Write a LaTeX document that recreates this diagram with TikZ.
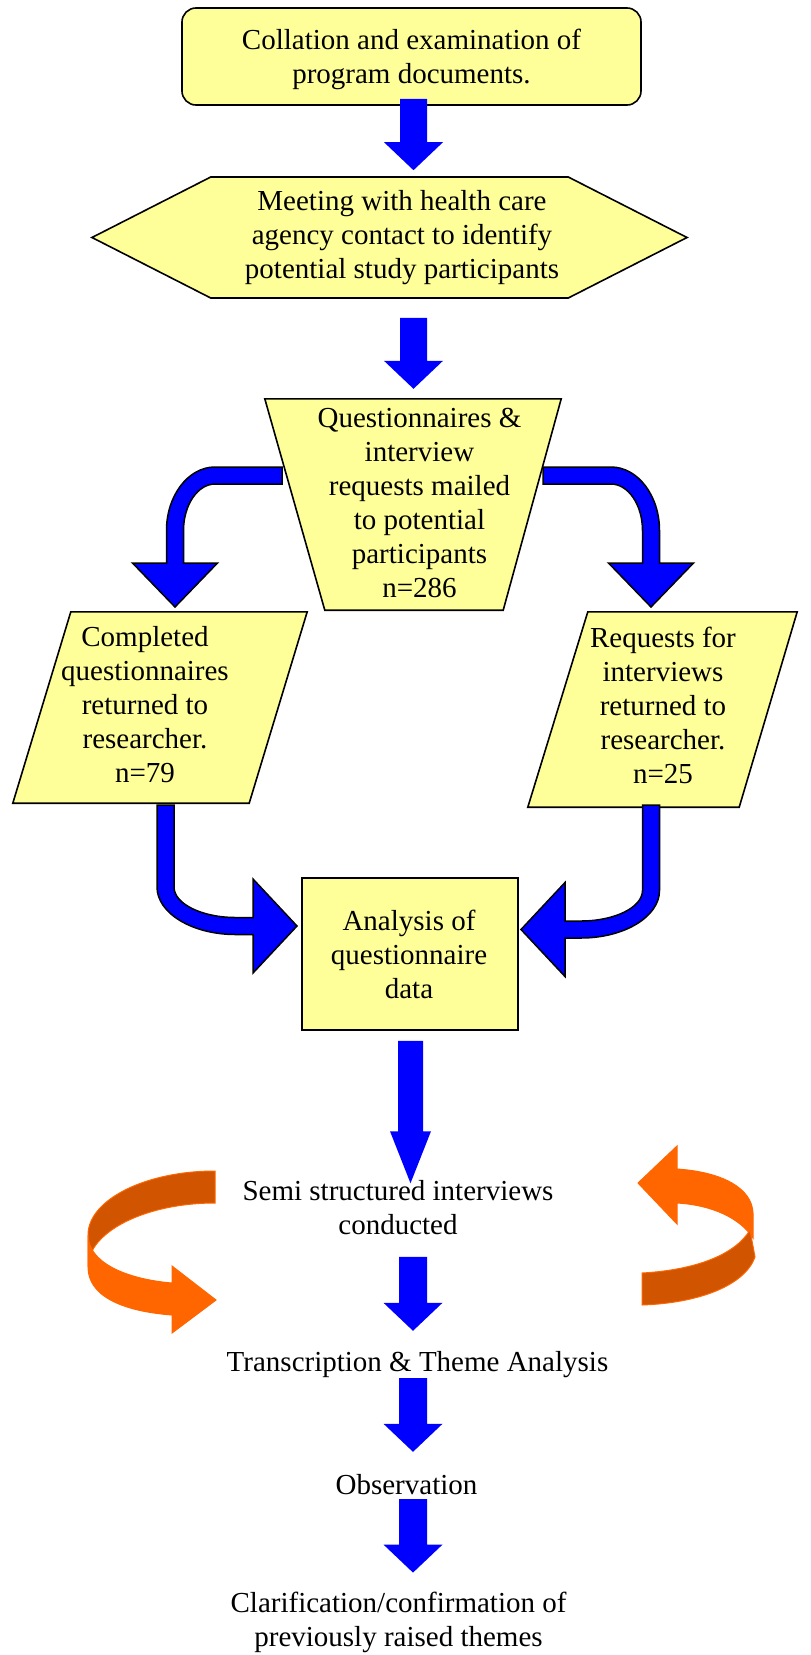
\documentclass[tikz,border=0pt]{standalone}
\usepackage{fontspec}
\setmainfont{Liberation Serif}
\usetikzlibrary{shapes.symbols,calc}

\definecolor{gul}{RGB}{255,255,153}
\definecolor{pilbla}{RGB}{0,0,255}
\definecolor{ljusorange}{RGB}{255,102,0}
\definecolor{morkorange}{RGB}{209,84,0}

\tikzset{
  boks/.style={draw=black,fill=gul,line width=1.6pt,inner sep=0pt},
  ram/.style={inner sep=0pt},
  txt/.style={align=center,inner sep=0pt,font=\fontsize{29pt}{34pt}\selectfont,
    execute at begin node={\rule{0pt}{22pt}},
    execute at end node={\rule[-22pt]{0pt}{22pt}}},
  bojstil/.style={fill=pilbla,draw=black,line width=1.5pt},
}

% rak pil: start, spets, halv skaftbredd, halv huvudbredd, huvudlangd
\newcommand{\nedpil}[5]{%
  \fill[pilbla] let \p1=(#1), \p2=(#2) in
    (\x2-#3pt,\y1) -- (\x2+#3pt,\y1) -- (\x2+#3pt,\y2+#5pt) -- (\x2+#4pt,\y2+#5pt)
    -- (\x2,\y2) -- (\x2-#4pt,\y2+#5pt) -- (\x2-#3pt,\y2+#5pt) -- cycle;}

% bojd pil: placering, forsta ben, andra ben, rx, ry, halv huvudbredd
\newcommand{\bojpil}[6]{%
  \draw[bojstil,#1] (0,-8.5) -- (-#2+#4,-8.5)
    .. controls (-#2+#4-0.55*#4-4.7,-8.5) and (-#2-8.5,#5-0.55*#5-4.7) .. (-#2-8.5,#5)
    -- (-#2-8.5,#3-44) -- (-#2-#6,#3-44) -- (-#2,#3) -- (-#2+#6,#3-44) -- (-#2+8.5,#3-44)
    -- (-#2+8.5,#5)
    .. controls (-#2+8.5,#5-0.55*#5+4.7) and (-#2+#4-0.55*#4+4.7,8.5) .. (-#2+#4,8.5)
    -- (0,8.5) -- cycle;}

\begin{document}
\begin{tikzpicture}[x=1pt,y=-1pt]
  \useasboundingbox (0,0) rectangle (811,1655);
  % Rutor
  \node[boks,rounded corners=14pt,minimum width=459pt,minimum height=97pt] (docs) at (411.5,56.5) {};
  \node[boks,signal,signal to=west and east,signal pointer angle=54,
    minimum width=595pt,minimum height=121pt] (meet) at (389.5,237.5) {};
  \node[ram,minimum width=296pt,minimum height=211pt] (mail) at (413,504.5) {};
  \draw[boks] (mail.north west) -- (mail.north east) -- ($(mail.south east)+(-58,0)$)
    -- ($(mail.south west)+(60,0)$) -- cycle;
  \node[ram,minimum width=294pt,minimum height=191pt] (quest) at (160,707.5) {};
  \draw[boks] ($(quest.north west)+(58,0)$) -- (quest.north east) -- ($(quest.south east)+(-58,0)$)
    -- (quest.south west) -- cycle;
  \node[ram,minimum width=269pt,minimum height=195pt] (req) at (662.5,709.5) {};
  \draw[boks] ($(req.north west)+(60,0)$) -- (req.north east) -- ($(req.south east)+(-58,0)$)
    -- (req.south west) -- cycle;
  \node[boks,minimum width=216pt,minimum height=152pt] (anal) at (410,954) {};

  % Texter
  \node[txt] (docstxt) at (411.5,67) {Collation and examination of\\program documents.};
  \node[txt] (meettxt) at (402,245) {Meeting with health care\\agency contact to identify\\potential study participants};
  \node[txt] (mailtxt) at (419.5,514) {Questionnaires \&\\interview\\requests mailed\\to potential\\participants\\n=286};
  \node[txt] (questtxt) at (145,715.5) {Completed\\questionnaires\\returned to\\researcher.\\n=79};
  \node[txt] (reqtxt) at (663,716) {Requests for\\interviews\\returned to\\researcher.\\n=25};
  \node[txt] (analtxt) at (409,965.5) {Analysis of\\questionnaire\\data};
  \node[txt] (semi) at (398,1218.5) {Semi structured interviews\\conducted};
  \node[txt] (trans) at (417.5,1371) {Transcription \& Theme Analysis};
  \node[txt] (obs) at (406.5,1494) {Observation};
  \node[txt] (clar) at (398.5,1630) {Clarification/confirmation of\\previously raised themes};

  % Raka pilar
  \coordinate (kol) at (413.5,0);
  \coordinate (kolb) at (410.5,0);
  \coordinate (kolc) at (413,0);
  \nedpil{$(docs.south -| kol)+(0,-7)$}{$(meet.north -| kol)+(0,-6)$}{13.5}{29.5}{28}
  \nedpil{$(meet.south -| kol)+(0,19)$}{$(mail.north -| kol)+(0,-10)$}{13.5}{29.5}{28}
  \nedpil{$(anal.south -| kolb)+(0,10)$}{$(semi.north -| kolb)+(0,3)$}{12.5}{20.5}{52}
  \foreach \a/\b/\s/\t in {semi/trans/0/-18,trans/obs/-15/-20,obs/clar/-17/-19}{
    \nedpil{$(\a.south -| kolc)+(0,\s)$}{$(\b.north -| kolc)+(0,\t)$}{14}{29.5}{28}
  }

  % Bojda pilar
  \coordinate (vstart) at (282,475.5);
  \coordinate (hstart) at (543,475.5);
  \coordinate (vner) at (165.5,805);
  \coordinate (hner) at (651,805);
  \bojpil{shift={(vstart)}}{107}{131.5}{40}{55}{42.5}
  \bojpil{shift={(hstart)},xscale=-1}{108}{131.5}{40}{55}{42.5}
  \bojpil{shift={(vner)},rotate=90}{121}{131.5}{39}{70}{47}
  \bojpil{shift={(hner)},xscale=-1,rotate=90}{124.5}{130}{39}{70}{47}

  % Orange pilar
  \filldraw[fill=morkorange,draw=ljusorange,line width=1pt] (215,1171) .. controls (145,1171) and (88,1200) .. (88,1235)
    -- (88,1267) .. controls (88,1232) and (145,1203) .. (215,1203) -- cycle;
  \filldraw[fill=ljusorange,draw=ljusorange,line width=1pt] (88,1235) .. controls (88,1262) and (125,1279) .. (172,1283)
    -- (172,1266) -- (216,1300) -- (172,1333) -- (172,1315) .. controls (120,1311) and (88,1295) .. (88,1267) -- cycle;
  \filldraw[fill=ljusorange,draw=ljusorange,line width=1pt] (677,1169) -- (677,1146) -- (638,1183) -- (677,1224)
    -- (677,1203) .. controls (712,1205) and (740,1218) .. (753,1238) -- (753,1213)
    .. controls (752,1188) and (722,1172) .. (677,1169) -- cycle;
  \filldraw[fill=morkorange,draw=ljusorange,line width=1pt] (642,1273) .. controls (695,1270) and (735,1255) .. (750,1230)
    -- (755,1257) .. controls (745,1285) and (700,1303) .. (642,1305) -- cycle;
\end{tikzpicture}
\end{document}
